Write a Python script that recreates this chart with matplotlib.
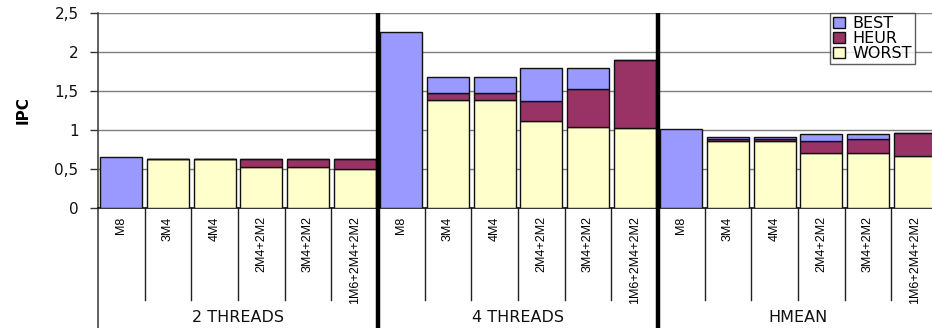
import numpy as np
import matplotlib
matplotlib.use("Agg")
import matplotlib.pyplot as plt
from matplotlib.ticker import FuncFormatter

# ---- data ----
groups = ["2 THREADS", "4 THREADS", "HMEAN"]
configs = ["M8", "3M4", "4M4", "2M4+2M2", "3M4+2M2", "1M6+2M4+2M2"]
series_names = ["BEST", "HEUR", "WORST"]

# stacked segment heights, per group (order of configs)
worst = [0.00, 0.625, 0.625, 0.53, 0.53, 0.50,
         0.00, 1.38, 1.38, 1.11, 1.04, 1.03,
         0.00, 0.855, 0.855, 0.71, 0.70, 0.67]
heur = [0.00, 0.00, 0.00, 0.10, 0.10, 0.13,
        0.00, 0.09, 0.09, 0.26, 0.48, 0.87,
        0.00, 0.025, 0.025, 0.145, 0.18, 0.29]
best = [0.65, 0.00, 0.00, 0.00, 0.00, 0.00,
        2.26, 0.21, 0.21, 0.42, 0.28, 0.00,
        1.01, 0.025, 0.025, 0.09, 0.065, 0.00]

yticks = [0, 0.5, 1, 1.5, 2, 2.5]

colors = {"BEST": "#9999FF", "HEUR": "#993366", "WORST": "#FFFFCC"}

# ---- figure ----
W, H = 932, 328
fig = plt.figure(figsize=(W / 100, H / 100), dpi=100)
ax_l, ax_r, ax_t, ax_b = 98, 938, 13, 208
ax = fig.add_axes([ax_l / W, 1 - ax_b / H, (ax_r - ax_l) / W, (ax_b - ax_t) / H])

n = len(groups) * len(configs)
x = np.arange(n)
labels = configs * len(groups)
w = 0.9
edge = dict(edgecolor="#111111", linewidth=1.0)

worst_a = np.array(worst)
heur_a = np.array(heur)
best_a = np.array(best)
b_w = ax.bar(x, worst_a, w, color=colors["WORST"], label="WORST", zorder=3, **edge)
b_h = ax.bar(x, heur_a, w, bottom=worst_a, color=colors["HEUR"], label="HEUR", zorder=3, **edge)
b_b = ax.bar(x, best_a, w, bottom=worst_a + heur_a, color=colors["BEST"], label="BEST", zorder=3, **edge)

ax.set_xlim(-0.5, n - 0.5)
ax.set_ylim(0, 2.5)
ax.set_yticks(yticks)
ax.yaxis.set_major_formatter(FuncFormatter(lambda v, p: ("%g" % v).replace(".", ",")))
ax.yaxis.grid(True, color="#7f7f7f", linewidth=1.0, zorder=0)
ax.set_axisbelow(True)
ax.tick_params(axis="y", length=6, width=1, color="#333333", pad=8,
               labelsize=11, labelcolor="#111111")
ax.set_xticks(x)
ax.set_xticklabels(labels, rotation=90, fontsize=9, family="Liberation Sans",
                   va="top", ha="center")
ax.tick_params(axis="x", length=0, pad=6)

for s in ["top", "right"]:
    ax.spines[s].set_visible(False)
ax.spines["left"].set_color("#444444")
ax.spines["left"].set_linewidth(1.2)
ax.spines["bottom"].set_color("#111111")
ax.spines["bottom"].set_linewidth(1.2)

ax.set_ylabel("IPC", fontsize=11, fontweight="bold")
ax.yaxis.set_label_coords(-(98 - 31) / (ax_r - ax_l), 0.5)

trans = ax.get_xaxis_transform()
ah = ax_b - ax_t
# left spine extension to bottom of figure
ax.plot([-0.5, -0.5], [0, -(H - ax_b) / ah], transform=trans, color="#444444",
        lw=1.2, clip_on=False)
# category separators below axis
gsize = len(configs)
for i in range(1, n):
    if i % gsize != 0:
        ax.plot([i - 0.5, i - 0.5], [0, -(300 - ax_b) / ah], transform=trans,
                color="#222222", lw=1.0, clip_on=False)
# thick group separators
for g in range(1, len(groups) + 1):
    xs = g * gsize - 0.5
    ax.plot([xs, xs], [1.0, -(H - ax_b + 2) / ah], transform=trans, color="black",
            lw=3.2, clip_on=False, zorder=5, solid_capstyle="butt")
# group labels
for g, name in enumerate(groups):
    ax.text(g * gsize + (gsize - 1) / 2, -(318 - ax_b) / ah, name, transform=trans,
            ha="center", va="center", fontsize=11.5, color="#111111")

leg = fig.legend(handles=[b_b, b_h, b_w], labels=series_names, loc="upper left",
                 bbox_to_anchor=(830 / W, 1 - 13 / H), borderaxespad=0,
                 frameon=True, fancybox=False, fontsize=11.5,
                 handlelength=0.75, handleheight=0.6, handletextpad=0.45,
                 labelspacing=0.0, borderpad=0.2)
leg.get_frame().set_edgecolor("#333333")
leg.get_frame().set_linewidth(1.0)

fig.savefig("out.png", dpi=100)
